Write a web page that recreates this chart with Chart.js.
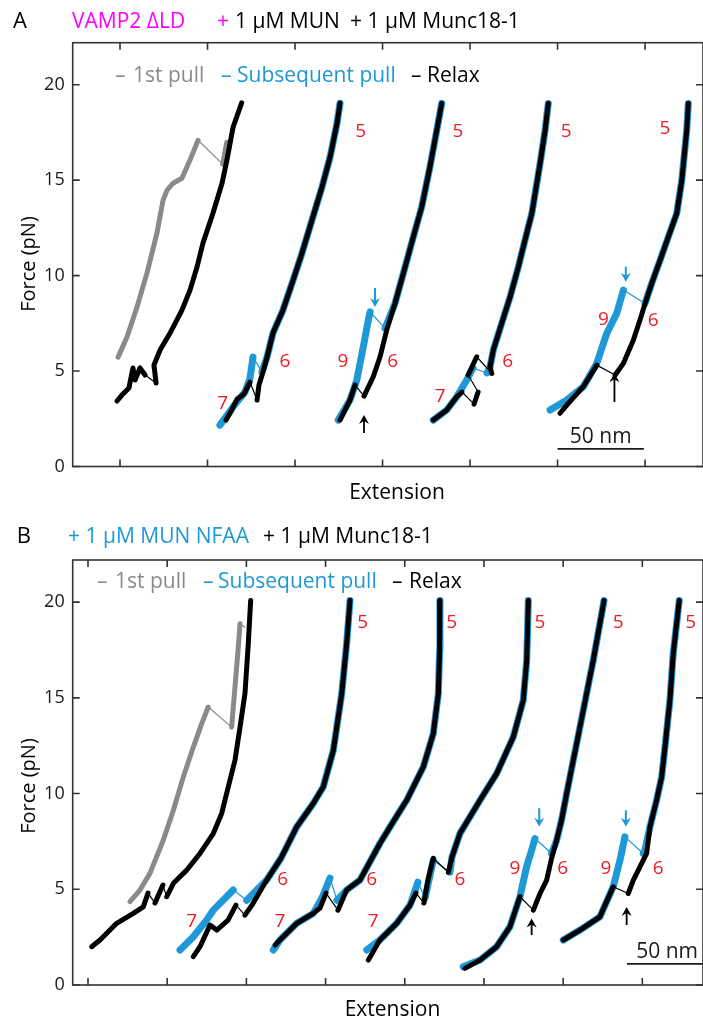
<!DOCTYPE html>
<html><head><meta charset="utf-8">
<script src="https://cdn.jsdelivr.net/npm/chart.js@4.4.1/dist/chart.umd.min.js"></script>
<style>
html,body{margin:0;padding:0;background:#fff;}
body{width:703px;height:1022px;position:relative;overflow:hidden;}
canvas{position:absolute;left:0;}
#cA{top:0;} #cB{top:510px;}
</style></head><body>
<canvas id="cA" width="703" height="510"></canvas>
<canvas id="cB" width="703" height="512"></canvas>
<script>
// ---------- tick labels ----------
const xTicksA = [0, 50, 100, 150, 200, 250, 300];
const xTicksB = [0, 50, 100, 150, 200, 250, 300, 350];
const yTicks  = [0, 5, 10, 15, 20];

// ---------- Panel A: [extension nm, force pN] ----------
const A1_pull  = [[-1.1,5.73],[4.0,6.78],[9.7,8.35],[15.4,10.13],[21.1,12.23],[24.6,13.95],[26.9,14.48],[30.3,14.84],[35.4,15.10],[40.0,16.05],[44.6,17.09],[58.7,15.84],[61.0,16.99]];
const A1_relax = [[69.5,19.05],[64.6,17.77],[61.1,16.05],[58.3,14.84],[53.1,13.27],[47.4,11.70],[44.0,10.45],[40.0,9.24],[35.4,8.19],[28.6,6.99],[22.9,6.10],[19.4,5.31],[20.6,4.37],[14.3,4.79],[11.4,5.16],[8.6,4.53],[7.4,5.16],[5.1,4.11],[1.1,3.74],[-1.7,3.43]];
const A2_pull  = [[57.1,2.17],[64.6,3.12],[71.4,3.90],[74.3,4.63],[76.0,5.73],[81.1,4.95],[84.0,5.73],[87.4,6.99],[93.1,8.19],[98.9,9.76],[104.0,11.18],[109.7,12.91],[115.4,14.63],[120.0,16.20],[124.0,17.98],[125.7,19.03]];
const A2_relax = [[125.7,19.03],[124.0,17.98],[120.0,16.20],[115.4,14.63],[109.7,12.91],[104.0,11.18],[98.9,9.76],[93.1,8.19],[87.4,6.99],[84.0,5.73],[81.7,4.95],[79.4,4.27],[78.3,3.48],[74.3,4.42],[70.9,3.80],[66.9,3.53],[62.9,2.80],[60.6,2.43]];
const A3_pull  = [[124.7,2.43],[131.4,3.48],[135.3,4.53],[139.0,6.27],[141.9,7.67],[142.9,8.10],[151.4,7.24],[157.1,8.54],[161.9,10.12],[167.6,12.03],[172.4,13.60],[177.1,15.70],[181.0,17.62],[183.8,19.02]];
const A3_relax = [[183.8,19.02],[181.0,17.62],[177.1,15.70],[172.4,13.60],[167.6,12.03],[161.9,10.12],[157.1,8.54],[152.4,7.15],[148.6,5.75],[144.7,4.70],[139.4,3.69],[134.3,4.27],[131.4,3.48],[128.0,2.85],[125.7,2.43]];
const A4_pull  = [[179.0,2.43],[186.7,2.96],[192.4,3.65],[198.1,4.53],[201.7,5.16],[209.7,4.90],[211.4,5.21],[213.3,6.10],[218.1,7.50],[222.9,8.89],[227.6,10.46],[231.4,11.86],[235.3,13.26],[240.0,15.87],[242.9,17.62],[244.7,19.02]];
const A4_relax = [[244.7,19.02],[242.9,17.62],[240.0,15.87],[235.3,13.26],[231.4,11.86],[227.6,10.46],[222.9,8.89],[218.1,7.50],[213.3,6.10],[211.4,5.21],[212.4,4.88],[203.8,5.75],[198.9,4.79],[204.6,3.90],[202.3,3.27],[195.4,3.90],[192.4,3.65],[186.7,2.96],[179.0,2.43]];
const A5_pull  = [[245.7,2.96],[255.3,3.48],[264.7,4.18],[272.4,5.40],[278.1,6.97],[283.8,8.02],[287.6,9.24],[300.0,8.54],[303.8,9.59],[308.6,10.81],[313.3,12.03],[318.1,13.26],[321.0,15.0],[323.8,17.62],[324.7,19.02]];
const A5_relax = [[324.7,19.02],[323.8,17.62],[321.0,15.0],[318.1,13.26],[313.3,12.03],[308.6,10.81],[303.8,9.59],[300.0,8.54],[297.1,7.67],[293.3,6.62],[287.6,5.40],[282.9,4.79],[272.4,5.31],[264.7,4.18],[255.3,3.22],[251.4,2.79]];

// state labels [text, extension, force]
const A_states = [['7',58.7,3.31],['6',94.3,5.49],['5',137.5,17.53],['9',127.4,5.47],['6',155.8,5.47],['5',193.1,17.53],
                  ['7',182.9,3.65],['6',221.5,5.52],['5',254.9,17.53],['9',276.2,7.67],['6',304.7,7.63],['5',311.4,17.7]];
// arrows [extension, force tail, force tip, kind]
const A_arrows = [[145.7,9.35,8.35,'pull'],[139.4,1.75,2.70,'relax'],[289.0,10.46,9.68,'pull'],[282.5,3.38,4.88,'relax']];
const A_scale = [250.0,299.3,0.92];

// ---------- Panel B ----------
const B1_pull  = [[26.5,4.35],[32.8,4.96],[39.1,5.83],[47.5,7.56],[53.9,9.13],[60.2,10.87],[66.5,12.43],[71.8,13.65],[75.9,14.52],[90.7,13.47],[92.8,15.56],[94.9,17.65],[96.0,18.87],[99.1,18.69]];
const B1_relax = [[102.7,20.08],[101.2,17.82],[99.1,15.22],[96.0,13.47],[92.8,11.74],[89.6,10.69],[84.4,8.96],[79.1,7.91],[70.7,6.87],[62.3,6.00],[53.9,5.31],[49.7,4.61],[47.3,5.22],[42.3,4.28],[37.9,4.80],[34.9,4.08],[28.6,3.74],[18.1,3.22],[7.6,2.35],[2.3,2.00]];
const B2_pull  = [[58.1,1.83],[66.5,2.52],[74.9,3.39],[79.1,3.91],[91.7,4.96],[100.2,4.43],[112.8,5.48],[121.8,6.62],[131.8,8.26],[142.2,9.48],[148.5,10.34],[154.9,12.26],[160.2,15.22],[163.3,17.82],[165.4,20.08]];
const B2_relax = [[165.4,20.08],[163.3,17.82],[160.2,15.22],[154.9,12.26],[148.5,10.34],[142.2,9.48],[131.8,8.26],[121.8,6.62],[112.8,5.48],[103.5,4.17],[99.1,3.65],[93.4,4.17],[88.4,3.39],[81.3,2.87],[77.0,3.13],[70.7,2.00],[66.5,1.48]];
const B3_pull  = [[117.0,1.83],[121.2,2.35],[131.8,3.22],[142.2,3.74],[147.7,4.54],[152.8,5.58],[157.2,4.43],[163.3,4.96],[171.7,5.48],[184.3,7.39],[190.7,8.26],[201.2,9.65],[211.7,11.39],[218.0,13.13],[221.2,15.22],[222.0,17.48],[222.2,20.08]];
const B3_relax = [[222.2,20.08],[222.0,17.48],[221.2,15.22],[218.0,13.13],[211.7,11.39],[201.2,9.65],[190.7,8.26],[184.3,7.39],[171.7,5.48],[163.3,4.96],[157.8,3.91],[150.3,4.80],[146.5,4.02],[142.2,3.74],[131.8,3.22],[121.2,2.35],[118.1,2.09]];
const B4_pull  = [[176.0,1.83],[184.3,2.35],[194.9,3.22],[203.3,4.17],[208.3,5.37],[212.8,4.54],[218.0,6.52],[228.5,5.89],[229.8,6.68],[234.8,7.91],[247.5,9.65],[258.0,11.04],[268.5,12.95],[274.8,14.87],[277.0,16.95],[278.0,20.08]];
const B4_relax = [[278.0,20.08],[277.0,16.95],[274.8,14.87],[268.5,12.95],[258.0,11.04],[247.5,9.65],[234.8,7.91],[229.8,6.68],[227.5,5.89],[218.0,6.62],[214.6,5.48],[212.1,4.28],[207.1,4.80],[203.3,4.17],[194.9,3.22],[184.3,2.35],[177.0,1.30]];
const B5_pull  = [[236.9,0.95],[247.5,1.30],[258.0,2.00],[266.4,3.04],[272.7,4.61],[276.9,6.17],[280.1,7.04],[282.2,7.65],[292.7,6.87],[295.9,7.56],[299.0,8.61],[302.2,10.0],[306.4,11.74],[310.6,13.47],[314.8,15.22],[319.0,16.95],[325.8,20.08]];
const B5_relax = [[325.8,20.08],[319.0,16.95],[314.8,15.22],[310.6,13.47],[306.4,11.74],[302.2,10.0],[299.0,8.61],[295.9,7.56],[292.7,6.62],[289.6,5.48],[285.4,4.78],[281.2,3.91],[272.7,4.61],[266.4,3.04],[258.0,2.00],[247.5,1.30],[238.0,0.87]];
const B6_pull  = [[300.1,2.35],[310.6,2.87],[323.2,3.56],[331.6,5.13],[335.9,6.52],[339.0,7.74],[350.6,6.87],[351.6,7.04],[354.8,8.26],[359.0,9.65],[362.2,10.87],[364.3,12.43],[367.4,14.87],[369.5,17.30],[373.3,20.08]];
const B6_relax = [[373.3,20.08],[369.5,17.30],[367.4,14.87],[364.3,12.43],[362.2,10.87],[359.0,9.65],[354.8,8.26],[352.7,6.87],[348.5,6.17],[344.3,5.48],[341.1,4.78],[331.6,5.13],[323.2,3.56],[310.6,2.87],[300.1,2.35]];

const B_states = [['5',173.4,18.95],['5',229.6,18.95],['5',285.4,18.95],['5',334.8,18.95],['5',380.5,18.95],
                  ['6',122.9,5.48],['6',179.1,5.48],['6',234.8,5.48],['6',299.7,6.09],['6',360.0,6.09],
                  ['7',65.5,3.30],['7',121.2,3.30],['7',180.1,3.30],['9',269.6,6.09],['9',327.0,6.09]];
const B_arrows = [[284.9,9.23,8.26,'pull'],[339.6,9.13,8.26,'pull'],[280.1,2.61,3.48,'relax'],[340.1,3.13,4.08,'relax']];
const B_scale = [340.3,391.0,1.10];

// ---------- styles ----------
const RED = '#ec1c24', BLUE = '#1e98d7', GRAY = '#8a8a8a', MAG = '#ff00ff', BLACK = '#000000', AXIS = '#333333';
const FONT = '"Open Sans", "Noto Sans", sans-serif';
const THIN = 1.2;

function series(points, kind, thinIdx) {
  const thin = new Set(thinIdx);
  const color = kind === 'first' ? GRAY : kind === 'pull' ? BLUE : BLACK;
  const w = kind === 'first' ? 5 : kind === 'pull' ? 7 : 5;
  const order = kind === 'relax' ? 0 : kind === 'pull' ? 1 : 2;
  return {
    data: points.map(p => ({x: p[0], y: p[1]})),
    borderColor: color, borderWidth: w, showLine: true, pointRadius: 0, fill: false, tension: 0, order,
    borderJoinStyle: 'round', borderCapStyle: 'round',
    segment: { borderWidth: c => thin.has(c.p0DataIndex) ? THIN : w }
  };
}

function arrow(ctx, x, yTail, yTip, kind) {
  const col = kind === 'pull' ? BLUE : BLACK;
  const dir = yTip > yTail ? 1 : -1;
  ctx.strokeStyle = col; ctx.fillStyle = col; ctx.lineWidth = kind === 'pull' ? 2 : 1.8;
  ctx.beginPath(); ctx.moveTo(x, yTail); ctx.lineTo(x, yTip - dir * 5); ctx.stroke();
  ctx.beginPath();
  ctx.moveTo(x, yTip);
  ctx.lineTo(x - 5, yTip - dir * 9);
  ctx.lineTo(x, yTip - dir * 6);
  ctx.lineTo(x + 5, yTip - dir * 9);
  ctx.closePath(); ctx.fill();
}

function makeDeco(cfg) {
  return {
    id: 'deco' + cfg.name,
    afterDatasetsDraw(chart) {
      const ctx = chart.ctx, ca = chart.chartArea, xs = chart.scales.x, ys = chart.scales.y;
      ctx.save();
      ctx.beginPath(); ctx.rect(ca.left, ca.top, ca.right - ca.left, ca.bottom - ca.top); ctx.clip();
      ctx.font = '19px ' + FONT; ctx.fillStyle = RED; ctx.textAlign = 'center'; ctx.textBaseline = 'middle';
      cfg.states.forEach(s => ctx.fillText(s[0], xs.getPixelForValue(s[1]), ys.getPixelForValue(s[2])));
      cfg.arrows.forEach(a => arrow(ctx, xs.getPixelForValue(a[0]), ys.getPixelForValue(a[1]), ys.getPixelForValue(a[2]), a[3]));
      const x1 = xs.getPixelForValue(cfg.scale[0]), x2 = xs.getPixelForValue(cfg.scale[1]), yb = ys.getPixelForValue(cfg.scale[2]);
      ctx.strokeStyle = '#1a1a1a'; ctx.lineWidth = 1.8;
      ctx.beginPath(); ctx.moveTo(x1, yb); ctx.lineTo(x2, yb); ctx.stroke();
      ctx.font = '21px ' + FONT; ctx.fillStyle = '#1a1a1a'; ctx.textBaseline = 'alphabetic';
      ctx.fillText('50 nm', (x1 + x2) / 2, yb - 6);
      ctx.restore();
    },
    afterDraw(chart) {
      const ctx = chart.ctx, ca = chart.chartArea, xs = chart.scales.x, ys = chart.scales.y;
      ctx.save();
      ctx.strokeStyle = AXIS; ctx.lineWidth = 1.6;
      ctx.strokeRect(ca.left, ca.top, ca.right - ca.left, ca.bottom - ca.top);
      ctx.beginPath();
      cfg.xTicks.forEach(v => { const px = xs.getPixelForValue(v);
        ctx.moveTo(px, ca.bottom); ctx.lineTo(px, ca.bottom - 7);
        ctx.moveTo(px, ca.top); ctx.lineTo(px, ca.top + 7); });
      yTicks.forEach(v => { const py = ys.getPixelForValue(v);
        ctx.moveTo(ca.left, py); ctx.lineTo(ca.left + 7, py);
        ctx.moveTo(ca.right, py); ctx.lineTo(ca.right - 7, py); });
      ctx.stroke();
      // panel letter and title
      ctx.textAlign = 'left'; ctx.textBaseline = 'alphabetic';
      ctx.font = '22px ' + FONT; ctx.fillStyle = BLACK;
      ctx.fillText(cfg.letter[0], cfg.letter[1], cfg.titleBase);
      ctx.font = '21px ' + FONT;
      cfg.title.forEach(t => { ctx.fillStyle = t[2]; ctx.fillText(t[0], t[1], cfg.titleBase); });
      cfg.legend.forEach(t => { ctx.fillStyle = t[2]; ctx.fillText(t[0], t[1], cfg.legendBase); });
      // axis titles
      ctx.fillStyle = BLACK; ctx.textAlign = 'center';
      ctx.fillText('Extension', cfg.xTitle[0], cfg.xTitle[1]);
      ctx.font = '20px ' + FONT;
      ctx.translate(cfg.yTitle[0], cfg.yTitle[1]); ctx.rotate(-Math.PI / 2);
      ctx.textBaseline = 'middle'; ctx.fillText('Force (pN)', 0, 0);
      ctx.restore();
    }
  };
}

function makeChart(id, cfg) {
  return new Chart(document.getElementById(id), {
    type: 'scatter',
    data: { datasets: cfg.datasets },
    options: {
      responsive: false, animation: false, devicePixelRatio: 1, events: [],
      layout: { padding: { top: cfg.padTop, right: 0, bottom: 0, left: 0 } },
      plugins: { legend: { display: false }, tooltip: { enabled: false } },
      scales: {
        x: { type: 'linear', position: 'bottom', min: cfg.xmin, max: cfg.xmax,
             grid: { display: false, drawTicks: false }, border: { display: false }, ticks: { display: false },
             afterBuildTicks: s => { s.ticks = cfg.xTicks.map(v => ({ value: v })); },
             afterFit: s => { s.height = cfg.xAxisH; } },
        y: { type: 'linear', position: 'left', min: 0, max: 22.2,
             grid: { display: false, drawTicks: false }, border: { display: false },
             ticks: { font: { family: FONT, size: 18 }, color: '#1a1a1a', padding: 8 },
             afterBuildTicks: s => { s.ticks = yTicks.map(v => ({ value: v })); },
             afterFit: s => { s.width = 72.7; } }
      }
    },
    plugins: [makeDeco(cfg)]
  });
}

makeChart('cA', {
  name: 'A', padTop: 42.7, xAxisH: 43.5, xmin: -27.03, xmax: 333.1, xTicks: xTicksA,
  datasets: [
    series(A1_pull, 'first', [10]), series(A1_relax, 'relax', [12]),
    series(A2_pull, 'pull', [4]), series(A2_relax, 'relax', [12]),
    series(A3_pull, 'pull', [5]), series(A3_relax, 'relax', [10]),
    series(A4_pull, 'pull', [4]), series(A4_relax, 'relax', [10, 12, 14]),
    series(A5_pull, 'pull', [6]), series(A5_relax, 'relax', [11])
  ],
  states: A_states, arrows: A_arrows, scale: A_scale,
  letter: ['A', 13], titleBase: 27.5,
  title: [['VAMP2 ΔLD', 72, MAG], ['+', 217, MAG], ['1 µM MUN', 235, BLACK], ['+ 1 µM Munc18-1', 350, BLACK]],
  legendBase: 81.7,
  legend: [['–', 115, GRAY], ['1st pull', 133, GRAY], ['–', 221, BLUE], ['Subsequent pull', 237, BLUE], ['–', 411, BLACK], ['Relax', 427, BLACK]],
  xTitle: [397, 499], yTitle: [29, 264]
});

makeChart('cB', {
  name: 'B', padTop: 50, xAxisH: 37, xmin: -9.66, xmax: 388.3, xTicks: xTicksB,
  datasets: [
    series(B1_pull, 'first', [8, 12]), series(B1_relax, 'relax', [11, 13]),
    series(B2_pull, 'pull', [4]), series(B2_relax, 'relax', [10]),
    series(B3_pull, 'pull', [5]), series(B3_relax, 'relax', [10]),
    series(B4_pull, 'pull', [4, 6]), series(B4_relax, 'relax', [8, 11]),
    series(B5_pull, 'pull', [7]), series(B5_relax, 'relax', [11]),
    series(B6_pull, 'pull', [5]), series(B6_relax, 'relax', [10])
  ],
  states: B_states, arrows: B_arrows, scale: B_scale,
  letter: ['B', 16.7], titleBase: 33.3,
  title: [['+ 1 µM MUN NFAA', 68, BLUE], ['+ 1 µM Munc18-1', 263, BLACK]],
  legendBase: 78.3,
  legend: [['–', 97, GRAY], ['1st pull', 115, GRAY], ['–', 203, BLUE], ['Subsequent pull', 218, BLUE], ['–', 392, BLACK], ['Relax', 409, BLACK]],
  xTitle: [392.5, 506], yTitle: [29, 276]
});
</script>
</body></html>
